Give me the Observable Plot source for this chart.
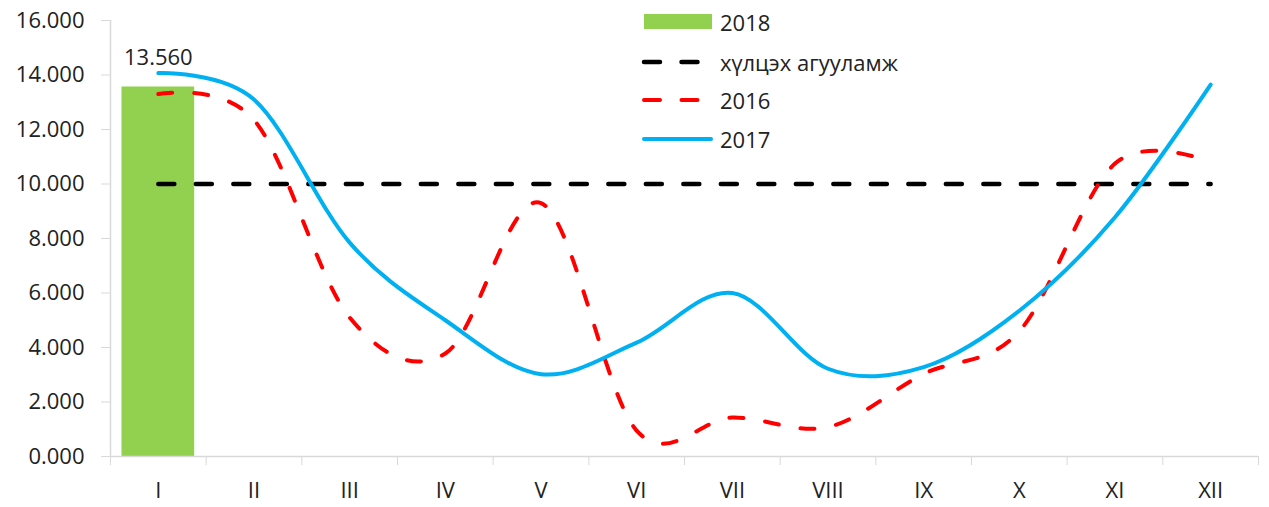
<!DOCTYPE html>
<html><head><meta charset="utf-8">
<script src="https://cdn.jsdelivr.net/npm/d3@7"></script>
<script src="https://cdn.jsdelivr.net/npm/@observablehq/plot@0.6"></script>
<style>
body{margin:0;background:#fff;}
#wrap{position:relative;width:1269px;height:507px;font-family:"Open Sans",sans-serif;}
.item{position:absolute;left:640px;height:30px;display:flex;align-items:center;white-space:nowrap;font-size:22px;color:#222;}
.item svg{margin-right:6px;}
</style></head>
<body><div id="wrap"></div>
<script>
const months = ["I","II","III","IV","V","VI","VII","VIII","IX","X","XI","XII"];
const tolerance = [10,10,10,10,10,10,10,10,10,10,10,10];
const values2016 = [13.3,12.35,5.1,3.78,9.3,0.95,1.43,1.08,3.03,4.6,10.75,10.8];
const values2017 = [14.07,13.1,7.85,5.0,3.02,4.18,6.0,3.22,3.28,5.35,8.78,13.65];
const values2018 = [13.56];
const yTicks = [0,2,4,6,8,10,12,14,16];
const legendLabels = ["2018","хүлцэх агууламж","2016","2017"];

const toRows = arr => arr.map((v,k)=>({i:k+1, v}));
const bars = toRows(values2018);
const boundaries = d3.range(0, months.length + 1).map(k => k + 0.5);
const fmt = d3.format(".3f");

const chart = Plot.plot({
  width:1269, height:507,
  marginLeft:110, marginRight:11, marginTop:20, marginBottom:51,
  style:{fontFamily:'"Open Sans", sans-serif', fontSize:"22px", color:"#222", background:"#fff"},
  x:{type:"linear", domain:[0.5, months.length + 0.5]},
  y:{domain:[0,16]},
  marks:[
    Plot.rectY(bars, {x1:d=>d.i-0.38, x2:d=>d.i+0.38, y1:0, y2:"v", fill:"#92D050"}),
    Plot.ruleY([0], {stroke:"#d9d9d9", strokeWidth:1.5}),
    Plot.ruleX([0.5], {stroke:"#d9d9d9", strokeWidth:1.5}),
    Plot.axisY({ticks:yTicks, tickFormat:fmt, tickSize:9, tickPadding:17, stroke:"#d9d9d9", strokeOpacity:1, fill:"#222", fontSize:22, label:null}),
    Plot.axisX({ticks:boundaries, tickFormat:()=>"", tickSize:9, stroke:"#d9d9d9", strokeOpacity:1, label:null}),
    Plot.axisX({ticks:d3.range(1, months.length+1), tickFormat:i=>months[i-1], tickSize:0, tickPadding:26, fill:"#222", fontSize:22, label:null}),
    Plot.line(toRows(tolerance), {x:"i", y:"v", stroke:"#000", strokeWidth:4.5, strokeDasharray:"16 21.5", strokeLinecap:"round"}),
    Plot.line(toRows(values2016), {x:"i", y:"v", stroke:"#ff0000", strokeWidth:4, strokeDasharray:"14 22", strokeLinecap:"round", curve:"cardinal"}),
    Plot.line(toRows(values2017), {x:"i", y:"v", stroke:"#00B0F0", strokeWidth:4, strokeLinecap:"round", curve:"cardinal"}),
    Plot.text(bars, {x:"i", y:"v", text:d=>fmt(d.v), dy:-29, fontSize:22, fill:"#222"})
  ]
});
const wrap = document.getElementById("wrap");
wrap.appendChild(chart);

// legend overlay
const centers = [22, 62, 100, 139];
const swatch = [
  '<rect x="4" y="2" width="68" height="15" fill="#92D050"/>',
  '<line x1="4" y1="10" x2="70" y2="10" stroke="#000" stroke-width="4.5" stroke-linecap="round" stroke-dasharray="16 21.5"/>',
  '<line x1="4" y1="10" x2="70" y2="10" stroke="#ff0000" stroke-width="4" stroke-linecap="round" stroke-dasharray="16 21.5"/>',
  '<line x1="4" y1="10" x2="71" y2="10" stroke="#00B0F0" stroke-width="4" stroke-linecap="round"/>'
];
legendLabels.forEach((lab, k) => {
  const div = document.createElement("div");
  div.className = "item";
  div.style.top = (centers[k] - 15) + "px";
  div.innerHTML = `<svg width="74" height="20">${swatch[k]}</svg><span>${lab}</span>`;
  wrap.appendChild(div);
});
</script>
</body></html>
